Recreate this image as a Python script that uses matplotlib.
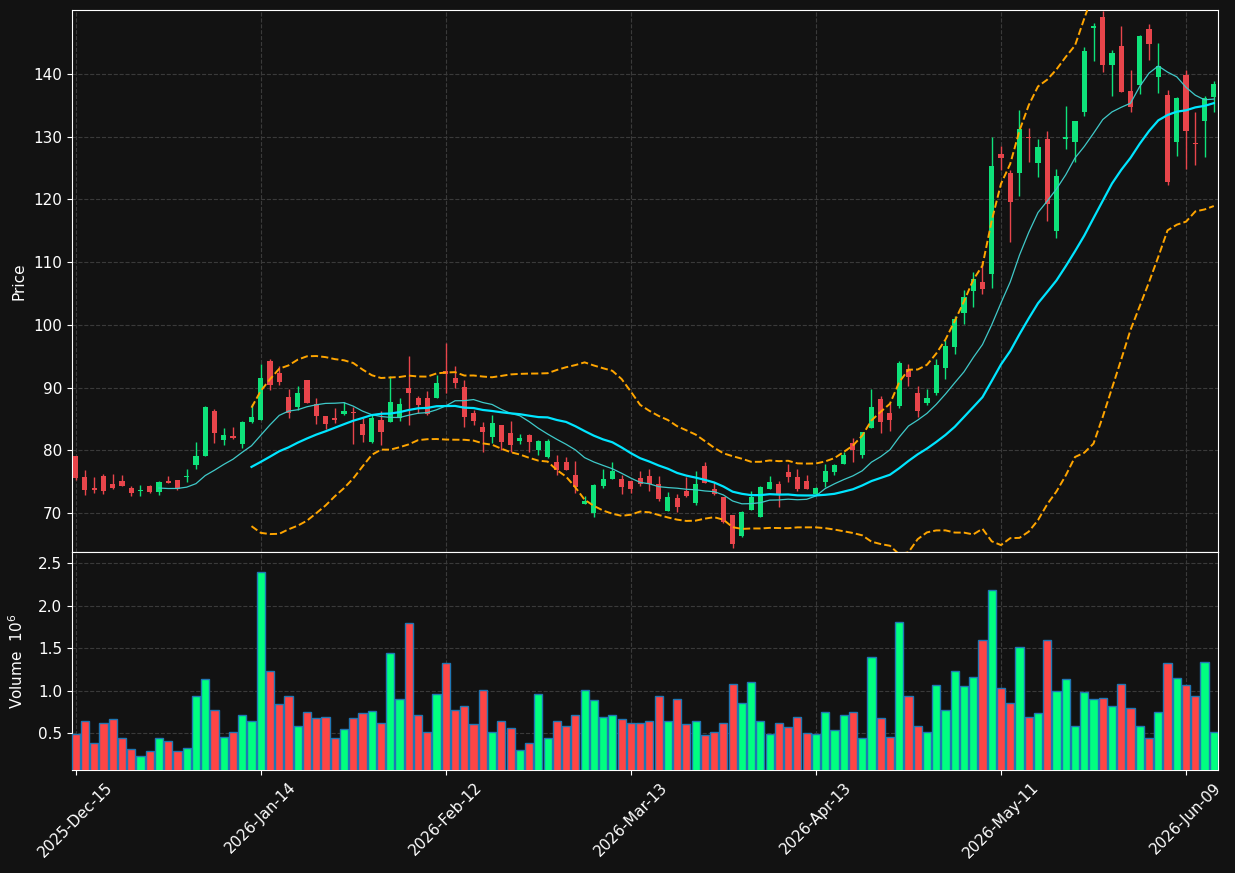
import numpy as np
import pandas as pd
import matplotlib
matplotlib.use('Agg')
import matplotlib.pyplot as plt

# trading days (NYSE calendar) starting 2025-12-15
holidays = ['2025-12-25', '2026-01-01', '2026-01-19', '2026-02-16', '2026-04-03', '2026-05-25']
dates = pd.bdate_range('2025-12-15', periods=124, freq='C', holidays=holidays)

opens = [79.1, 75.8, 74.0, 75.9, 74.6, 75.1, 74.0, 73.6, 74.4, 73.4,
         75.1, 75.3, 75.7, 77.7, 79.1, 86.3, 81.6, 82.3, 81.0, 84.5,
         84.9, 94.2, 92.4, 88.5, 86.9, 91.2, 87.4, 85.5, 85.1, 85.8,
         86.0, 84.2, 81.4, 84.8, 84.6, 85.2, 89.9, 88.3, 88.3, 88.3,
         92.6, 91.5, 90.1, 85.9, 83.7, 82.1, 84.0, 82.7, 81.5, 82.4,
         80.0, 78.9, 78.1, 78.2, 76.0, 71.5, 70.0, 74.3, 75.5, 75.4,
         75.1, 75.6, 75.9, 74.7, 70.3, 72.4, 73.6, 71.6, 77.5, 73.9,
         72.5, 69.7, 66.4, 70.5, 69.3, 73.9, 74.6, 76.6, 75.8, 75.1,
         73.1, 74.9, 76.5, 77.9, 81.1, 79.2, 83.5, 88.2, 85.9, 87.1,
         92.9, 89.1, 87.5, 89.2, 93.2, 96.5, 101.9, 105.4, 106.8, 108.1,
         127.3, 124.2, 124.3, 130.0, 125.8, 129.6, 115.0, 129.6, 129.1, 133.9,
         147.4, 149.1, 141.5, 144.5, 137.3, 138.3, 147.1, 139.6, 136.7, 129.1,
         139.9, 129.0, 132.5, 136.3]
highs = [79.1, 76.8, 75.7, 76.3, 76.3, 76.0, 74.4, 74.5, 74.5, 75.1,
         75.9, 75.3, 77.0, 81.3, 87.0, 86.6, 83.5, 83.8, 84.7, 87.4,
         93.8, 94.6, 93.5, 89.8, 90.2, 91.2, 88.3, 85.5, 86.7, 87.7,
         86.9, 85.1, 85.7, 86.3, 91.8, 88.4, 95.1, 88.7, 89.4, 92.0,
         97.1, 93.4, 91.2, 86.4, 84.5, 85.7, 84.0, 84.7, 82.6, 82.6,
         81.6, 81.8, 79.3, 78.9, 78.3, 72.8, 74.6, 77.1, 78.2, 76.0,
         75.1, 76.7, 77.0, 75.9, 73.4, 73.1, 75.7, 76.7, 78.2, 74.9,
         72.5, 69.7, 70.4, 73.5, 74.3, 75.9, 75.1, 77.9, 77.0, 76.0,
         74.1, 77.8, 77.9, 79.8, 81.9, 83.0, 89.8, 88.7, 87.5, 94.2,
         93.7, 90.2, 89.8, 94.5, 97.6, 101.4, 105.5, 108.5, 110.2, 130.0,
         128.5, 124.7, 134.3, 131.4, 129.7, 130.9, 124.8, 134.9, 132.5, 144.3,
         148.1, 150.0, 143.8, 147.7, 140.6, 146.2, 147.9, 145.0, 137.4, 136.4,
         140.7, 134.0, 136.5, 138.9]
lows = [75.3, 72.9, 73.2, 73.0, 73.9, 74.3, 72.8, 72.8, 73.2, 72.9,
        74.8, 73.7, 75.0, 77.0, 79.1, 81.1, 80.9, 81.8, 80.3, 84.4,
        84.9, 89.7, 90.5, 85.1, 86.5, 87.5, 84.2, 83.4, 84.4, 85.6,
        81.0, 81.3, 81.1, 80.9, 84.6, 84.7, 84.0, 86.0, 85.7, 88.3,
        89.2, 90.0, 83.8, 84.1, 79.8, 81.2, 80.1, 79.7, 81.0, 79.7,
        79.2, 78.8, 76.0, 76.8, 73.2, 71.5, 69.4, 74.0, 75.5, 73.0,
        73.2, 74.4, 73.6, 72.0, 70.3, 70.2, 72.5, 71.3, 74.8, 72.9,
        68.4, 64.4, 66.2, 70.5, 69.3, 73.9, 71.0, 74.9, 73.6, 73.8,
        72.9, 74.2, 76.1, 77.9, 78.1, 78.8, 83.5, 82.7, 83.1, 86.7,
        90.3, 85.4, 87.2, 88.8, 91.3, 95.3, 100.1, 102.9, 105.0, 105.9,
        124.7, 113.2, 120.6, 125.9, 123.6, 116.5, 113.8, 128.1, 126.0, 133.3,
        142.1, 140.4, 136.5, 137.2, 134.0, 136.8, 142.3, 137.0, 122.3, 126.9,
        124.8, 125.5, 126.7, 134.0]
closes = [75.6, 73.7, 73.7, 73.5, 74.0, 74.3, 73.2, 73.7, 73.4, 74.9,
          74.8, 73.8, 75.8, 79.1, 86.9, 82.8, 82.4, 82.0, 84.5, 85.3,
          91.5, 90.4, 90.9, 85.9, 89.1, 87.6, 85.5, 84.2, 84.8, 86.2,
          85.9, 82.5, 85.2, 83.0, 87.7, 87.4, 89.2, 87.3, 85.8, 90.7,
          92.1, 90.7, 85.4, 84.7, 83.0, 84.3, 81.4, 80.9, 82.0, 81.4,
          81.5, 81.5, 76.9, 76.8, 74.1, 71.9, 74.5, 75.4, 76.7, 74.2,
          73.8, 74.7, 74.6, 72.3, 72.6, 70.9, 72.8, 74.6, 74.8, 73.1,
          68.6, 65.0, 70.1, 72.6, 74.1, 75.0, 73.1, 75.8, 73.9, 73.8,
          74.0, 76.7, 77.7, 79.3, 80.1, 83.0, 86.9, 84.6, 84.9, 93.9,
          91.7, 86.2, 88.4, 93.6, 96.6, 100.9, 104.4, 107.3, 105.7, 125.4,
          126.6, 119.6, 131.2, 129.8, 128.3, 119.2, 123.7, 129.9, 132.5, 143.7,
          147.6, 141.5, 143.4, 137.2, 134.8, 146.0, 144.8, 141.3, 122.8, 136.1,
          130.9, 128.9, 136.1, 138.4]
volumes = [0.49, 0.65, 0.39, 0.62, 0.67, 0.45, 0.32, 0.23, 0.29, 0.44,
           0.41, 0.29, 0.33, 0.94, 1.14, 0.77, 0.46, 0.52, 0.71, 0.65,
           2.39, 1.23, 0.84, 0.94, 0.58, 0.75, 0.68, 0.69, 0.44, 0.55,
           0.68, 0.74, 0.76, 0.62, 1.44, 0.90, 1.80, 0.72, 0.52, 0.96,
           1.32, 0.77, 0.82, 0.61, 1.01, 0.51, 0.65, 0.56, 0.30, 0.39,
           0.96, 0.45, 0.64, 0.59, 0.72, 1.01, 0.89, 0.69, 0.71, 0.67,
           0.62, 0.62, 0.64, 0.94, 0.64, 0.90, 0.61, 0.65, 0.48, 0.51,
           0.62, 1.08, 0.86, 1.10, 0.64, 0.49, 0.62, 0.57, 0.69, 0.50,
           0.49, 0.75, 0.54, 0.71, 0.75, 0.45, 1.40, 0.68, 0.46, 1.81,
           0.94, 0.59, 0.52, 1.07, 0.77, 1.23, 1.06, 1.16, 1.59, 2.18,
           1.03, 0.86, 1.51, 0.69, 0.74, 1.59, 1.00, 1.14, 0.59, 0.99,
           0.90, 0.91, 0.82, 1.08, 0.80, 0.58, 0.44, 0.75, 1.33, 1.15,
           1.07, 0.94, 1.34, 0.51]  # millions

df = pd.DataFrame({'Open': opens, 'High': highs, 'Low': lows,
                   'Close': closes, 'Volume': volumes}, index=dates)

# moving averages and bollinger bands
ma10 = df['Close'].rolling(10).mean()
ma20 = df['Close'].rolling(20).mean()
sd20 = df['Close'].rolling(20).std()
bb_up = ma20 + 2 * sd20
bb_lo = ma20 - 2 * sd20

bg = '#121212'
up_c, dn_c = '#0ee27a', '#e8454b'
vup_c, vdn_c = '#00ff80', '#ff4545'

fig = plt.figure(figsize=(12.35, 8.73), dpi=100, facecolor=bg)
ax = fig.add_axes([0.0583, 0.3677, 0.9279, 0.6208], facecolor=bg)
axv = fig.add_axes([0.0583, 0.1180, 0.9279, 0.2497], facecolor=bg, sharex=ax)

x = np.arange(len(df))
o = df['Open'].values
c = df['Close'].values
is_up = c >= o
cols = np.where(is_up, up_c, dn_c)

# candles
ax.vlines(x, df['Low'], df['High'], colors=cols, linewidth=1, zorder=2)
body_lo = np.minimum(o, c)
body_h = np.maximum(np.abs(c - o), 0.15)
ax.bar(x, body_h, bottom=body_lo, width=0.55, color=cols, linewidth=0, zorder=3)

ax.plot(x, ma10, color='#3fc9c9', linewidth=0.9, zorder=4)
ax.plot(x, ma20, color='#00e5ff', linewidth=1.6, zorder=4)
ax.plot(x, bb_up, color='#ffa500', linestyle='--', linewidth=1.4, zorder=4)
ax.plot(x, bb_lo, color='#ffa500', linestyle='--', linewidth=1.4, zorder=4)

# volume
vcols = np.where(is_up, vup_c, vdn_c)
axv.bar(x, df['Volume'], width=0.88, color=vcols, edgecolor='#1f77b4', linewidth=1, zorder=3)

ax.set_xlim(-0.4, len(df) - 0.55)
ax.set_ylim(63.8, 150.2)
axv.set_ylim(0.3 * min(volumes), 1.1 * max(volumes))

ax.set_yticks(range(70, 141, 10))
axv.set_yticks([0.5, 1.0, 1.5, 2.0, 2.5])

tick_idx = list(range(0, len(df), 20))
tick_labels = [dates[i].strftime('%Y-%b-%d') for i in tick_idx]
axv.set_xticks(tick_idx)
axv.set_xticklabels(tick_labels, rotation=45, ha='center')
plt.setp(ax.get_xticklabels(), visible=False)

for a in (ax, axv):
    a.grid(True, linestyle='--', color='#3a3a3a', linewidth=0.8)
    a.set_axisbelow(True)
    for s in a.spines.values():
        s.set_color('white')
    a.tick_params(colors='white', labelsize=11)

ax.tick_params(axis='x', length=0)
ax.set_ylabel('Price', color='white', fontsize=11)
axv.set_ylabel('Volume  $10^6$', color='white', fontsize=11)
ax.yaxis.set_label_coords(-0.040, 0.5)
axv.yaxis.set_label_coords(-0.040, 0.5)

fig.savefig('out.png', dpi=100, facecolor=bg)
